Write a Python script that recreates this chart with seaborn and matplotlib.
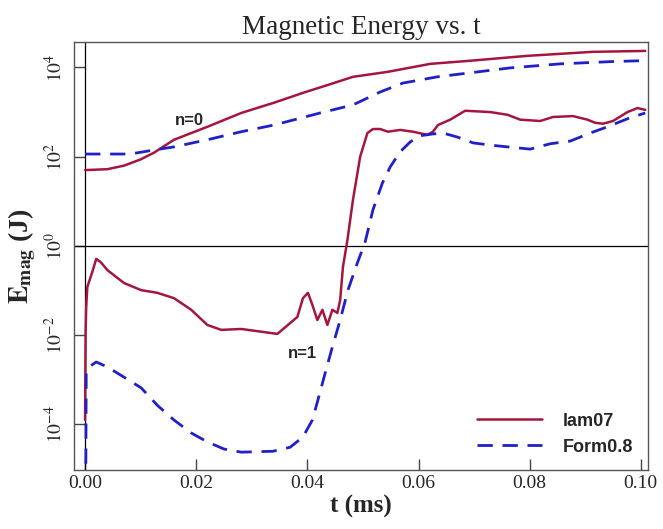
import numpy as np
import pandas as pd
import matplotlib
matplotlib.use('Agg')
import matplotlib.pyplot as plt
from matplotlib.ticker import FixedLocator, FuncFormatter
import seaborn as sns

# t in ms, energies stored as log10(E / J)
lam07_n0_t = [0.0, 0.0040, 0.0070, 0.0100, 0.0124, 0.0160, 0.0220, 0.0281, 0.0340, 0.0392,
              0.0440, 0.0482, 0.0544, 0.0621, 0.0693, 0.0796, 0.0914, 0.1008]
lam07_n0_log = [1.70, 1.72, 1.80, 1.94, 2.09, 2.38, 2.67, 2.98, 3.21, 3.43,
                3.62, 3.79, 3.90, 4.08, 4.15, 4.26, 4.35, 4.37]

form08_n0_t = [0.0, 0.0081, 0.0124, 0.0160, 0.0220, 0.0281, 0.0340, 0.0423, 0.0482,
               0.0531, 0.0572, 0.0634, 0.0693, 0.0765, 0.0855, 0.0945, 0.0999]
form08_n0_log = [2.06, 2.06, 2.15, 2.22, 2.38, 2.56, 2.71, 2.98, 3.16,
                 3.45, 3.65, 3.79, 3.88, 3.99, 4.08, 4.13, 4.15]

lam07_n1_t = [0.0, 0.0001, 0.0002, 0.0004, 0.0013, 0.0020, 0.0028, 0.0040, 0.0070, 0.0101,
              0.0130, 0.0160, 0.0191, 0.0220, 0.0245, 0.0281, 0.0346, 0.0382, 0.0392,
              0.0401, 0.0409, 0.0418, 0.0427, 0.0436, 0.0445, 0.0454, 0.0459, 0.0464,
              0.0472, 0.0482, 0.0495, 0.0508, 0.0518, 0.0531, 0.0545, 0.0567, 0.0590,
              0.0616, 0.0626, 0.0635, 0.0657, 0.0684, 0.0729, 0.0760, 0.0783, 0.0819,
              0.0842, 0.0878, 0.0904, 0.0918, 0.0932, 0.0950, 0.0976, 0.0994, 0.1008]
lam07_n1_log = [-3.90, -1.88, -1.37, -0.92, -0.58, -0.29, -0.36, -0.54, -0.83, -0.99,
                -1.05, -1.17, -1.43, -1.77, -1.88, -1.86, -1.97, -1.59, -1.17,
                -1.05, -1.32, -1.66, -1.43, -1.77, -1.43, -1.50, -1.21, -0.47,
                0.13, 1.03, 2.00, 2.53, 2.62, 2.62, 2.56, 2.60, 2.56,
                2.49, 2.56, 2.71, 2.83, 3.03, 3.00, 2.94, 2.83, 2.80,
                2.89, 2.91, 2.83, 2.76, 2.74, 2.80, 3.00, 3.09, 3.05]

form08_n1_t = [0.0001, 0.0002, 0.0007, 0.0020, 0.0040, 0.0070, 0.0101, 0.0130, 0.0160,
               0.0191, 0.0220, 0.0250, 0.0281, 0.0338, 0.0369, 0.0392, 0.0409, 0.0419,
               0.0432, 0.0445, 0.0459, 0.0473, 0.0490, 0.0504, 0.0518, 0.0535, 0.0549,
               0.0567, 0.0585, 0.0603, 0.0626, 0.0644, 0.0670, 0.0698, 0.0729, 0.0760,
               0.0801, 0.0837, 0.0873, 0.0909, 0.0940, 0.0976, 0.1008]
form08_n1_log = [-6.00, -2.85, -2.71, -2.60, -2.71, -2.94, -3.18, -3.57, -3.90,
                 -4.19, -4.39, -4.55, -4.62, -4.60, -4.51, -4.28, -3.90, -3.45,
                 -2.85, -2.26, -1.66, -0.99, -0.38, 0.09, 0.81, 1.41, 1.77,
                 2.11, 2.33, 2.47, 2.51, 2.53, 2.44, 2.31, 2.26, 2.22,
                 2.17, 2.29, 2.35, 2.53, 2.67, 2.85, 2.98]

y_tick_exps = [-4, -2, 0, 2, 4]
x_ticks = [0.00, 0.02, 0.04, 0.06, 0.08, 0.10]

red = '#A5163F'
blue = '#2020C8'

sns.set_style('ticks')
plt.rcParams['font.family'] = ['Liberation Serif', 'DejaVu Serif']
plt.rcParams['mathtext.fontset'] = 'stix'


def frame(t, logs):
    return pd.DataFrame({'t': t, 'E': 10.0 ** np.array(logs)})


fig = plt.figure(figsize=(6.63, 5.29), dpi=100)
ax = fig.add_axes([0.1116, 0.1115, 0.8658, 0.8091])

sns.lineplot(data=frame(lam07_n0_t, lam07_n0_log), x='t', y='E', ax=ax,
             color=red, lw=1.8, estimator=None, sort=False)
sns.lineplot(data=frame(lam07_n1_t, lam07_n1_log), x='t', y='E', ax=ax,
             color=red, lw=1.8, estimator=None, sort=False, label='lam07')
sns.lineplot(data=frame(form08_n0_t, form08_n0_log), x='t', y='E', ax=ax,
             color=blue, lw=2.0, estimator=None, sort=False)
sns.lineplot(data=frame(form08_n1_t, form08_n1_log), x='t', y='E', ax=ax,
             color=blue, lw=2.0, estimator=None, sort=False, label='Form0.8')
ax.lines[2].set_linestyle((0, (5.5, 3.5)))
ax.lines[3].set_linestyle((0, (5.5, 3.5)))

ax.set_yscale('log')
ax.set_xlim(-0.002, 0.1013)
ax.set_ylim(10 ** -5.02, 10 ** 4.57)
ax.axhline(1.0, color='black', lw=0.9, zorder=1)
ax.axvline(0.0, color='black', lw=0.9, zorder=1)

ax.yaxis.set_major_locator(FixedLocator([10.0 ** e for e in y_tick_exps]))
ax.yaxis.set_minor_locator(FixedLocator([]))
ax.yaxis.set_major_formatter(FuncFormatter(lambda v, p: r'$10^{%d}$' % round(np.log10(v))))
ax.set_xticks(x_ticks)
ax.set_xticklabels(['%.2f' % v for v in x_ticks])
ax.tick_params(direction='in', length=8, width=1, labelsize=14, color='#444444')
ax.tick_params(axis='y', pad=6)
for lab in ax.get_yticklabels():
    lab.set_rotation(90)
    lab.set_va('center')
for s in ax.spines.values():
    s.set_color('#555555')
    s.set_linewidth(1.0)

ax.set_title('Magnetic Energy vs. t', fontsize=19.5, pad=6)
ax.set_xlabel('t (ms)', fontsize=18, fontweight='bold', labelpad=2)
ax.set_ylabel(r'$\mathbf{E}_{\mathbf{mag}}$ (J)', fontsize=20, fontweight='bold', labelpad=4)

sans = dict(family=['Liberation Sans', 'DejaVu Sans'], weight='bold', size=12)
ax.text(0.0187, 10 ** 2.82, 'n=0', ha='center', va='center', fontdict=sans)
ax.text(0.0392, 10 ** -2.40, 'n=1', ha='center', va='center', fontdict=sans)

ax.legend(loc='lower right', frameon=False, handlelength=3.6, handletextpad=1.2,
          prop=dict(family=['Liberation Sans', 'DejaVu Sans'], weight='bold', size=13),
          bbox_to_anchor=(1.0, 0.0), borderaxespad=0.4, labelspacing=0.5)

fig.savefig('out.png', dpi=100)
